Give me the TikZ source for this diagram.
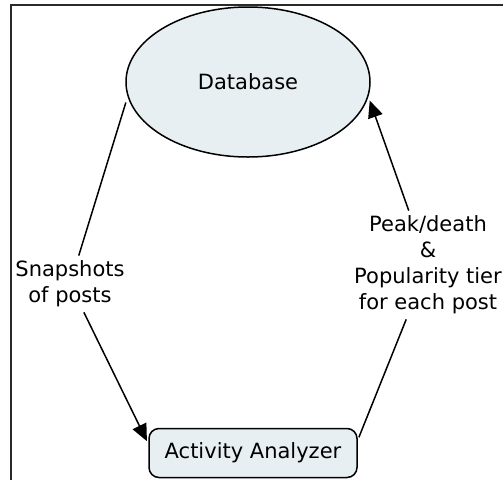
\documentclass[tikz,border=0pt]{standalone}
\usepackage{fontspec}
\setmainfont{DejaVu Sans}
\usetikzlibrary{shapes.geometric, arrows.meta}
\definecolor{box}{HTML}{E8EFF3}
\definecolor{frame}{HTML}{2A2A2A}

\begin{document}
\begin{tikzpicture}[x=1pt, y=-1pt, font=\fontsize{21}{26}\selectfont,
    line/.style={line width=1.5pt},
    flow/.style={line, -{Triangle[length=17pt, width=15pt]}},
    tag/.style={align=center, inner sep=5pt}]
\useasboundingbox (0,0) rectangle (503,480);
% outer frame, runs off the right and bottom edges
\draw[line width=2pt, color=frame] (11,480) -- (11,5) -- (503,5);

% the two blocks
\node[ellipse, draw, line, fill=box, inner sep=0pt,
      minimum width=244pt, minimum height=150pt] (db) at (248,82) {Database};
\node[draw, line, fill=box, rounded corners=10pt,
      minimum width=208pt, minimum height=49pt] (aa) at (253,453) {Activity Analyzer};

% labels that sit on the connectors
\node[tag] (snap) at (70,284) {Snapshots\\of posts};
\node[tag] (peak) at (428,265) {Peak/death\\\&\\Popularity tier\\for each post};

\draw[line, shorten <=6pt] (db.187) -- (snap);
\draw[flow, shorten >=3pt] (snap) -- (aa.175);

\draw[line, shorten <=3pt] (aa.7) -- (peak);
\draw[flow, shorten >=4pt] (peak) -- (db.-7);

\end{tikzpicture}
\end{document}
